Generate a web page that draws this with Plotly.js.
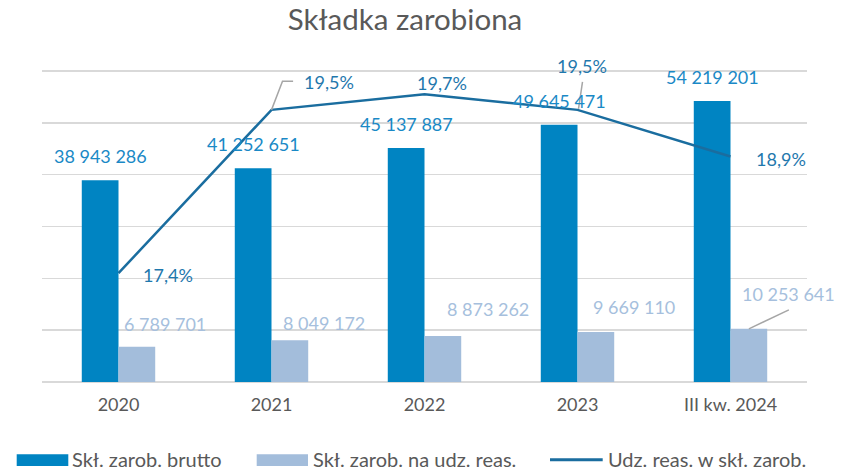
<!DOCTYPE html>
<html>
<head>
<meta charset="utf-8">
<script src="https://cdn.plot.ly/plotly-3.0.1.min.js"></script>
<style>html,body{margin:0;padding:0;background:#fff;}#chart{width:850px;height:472px;}</style>
</head>
<body>
<div id="chart"></div>
<script>
// ---- data ----
const categories = ['2020', '2021', '2022', '2023', 'III kw. 2024'];
const grossEarned = [38943286, 41252651, 45137887, 49645471, 54219201];
const reinsEarned = [6789701, 8049172, 8873262, 9669110, 10253641];
const reinsSharePct = [17.4, 19.5, 19.7, 19.5, 18.9];
const seriesNames = ['Skł. zarob. brutto', 'Skł. zarob. na udz. reas.', 'Udz. reas. w skł. zarob.'];
const chartTitle = 'Składka zarobiona';

// ---- styles ----
const FONT = 'Lato, "Open Sans", sans-serif';
const C_DARK = '#0084C2', C_LIGHT = '#A3BDDB', C_LINE = '#1A6D9F';
const C_DARK_TXT = '#1A89C6', C_LIGHT_TXT = '#A6BFDD', C_LINE_TXT = '#1F78AD';
const C_TEXT = '#595959', C_GRID = '#D9D9D9', C_LEADER = '#A6A6A6';
const BAR_HALF = 18.36; // px offset of bar centre from category centre
// label offsets in pixels [dx, dy(up)]
const darkOff = [0, 24];
const lightOff = [[28.6, 23.3], [34, 17.5], [45.3, 27.4], [37.7, 24.6], [40, 34.5]];
const pctOff = [[49, -2], [57.3, 28], [17.5, 11.4], [4.5, 43.6], [50, -2]];

function fmtNum(v) { return String(v).replace(/\B(?=(\d{3})+(?!\d))/g, ' '); }
function fmtPct(v) { return v.toFixed(1).replace('.', ',') + '%'; }

const traces = [
  { type: 'bar', name: seriesNames[0], x: categories, y: grossEarned, marker: { color: C_DARK }, hoverinfo: 'skip' },
  { type: 'bar', name: seriesNames[1], x: categories, y: reinsEarned, marker: { color: C_LIGHT }, hoverinfo: 'skip' },
  { type: 'scatter', mode: 'lines', name: seriesNames[2], x: categories, y: reinsSharePct, yaxis: 'y2',
    line: { color: C_LINE, width: 2.5 }, hoverinfo: 'skip' }
];

const annotations = [];
const shapes = [];
categories.forEach((c, i) => {
  // i = category index on the category axis
  annotations.push({ x: i, y: grossEarned[i], xref: 'x', yref: 'y', text: fmtNum(grossEarned[i]), showarrow: false,
    xanchor: 'center', yanchor: 'middle', xshift: -BAR_HALF + darkOff[0], yshift: darkOff[1],
    font: { family: FONT, size: 18, color: C_DARK_TXT } });
  annotations.push({ x: i, y: reinsEarned[i], xref: 'x', yref: 'y', text: fmtNum(reinsEarned[i]), showarrow: false,
    xanchor: 'center', yanchor: 'middle', xshift: BAR_HALF + lightOff[i][0], yshift: lightOff[i][1],
    font: { family: FONT, size: 18, color: C_LIGHT_TXT } });
  annotations.push({ x: i, y: reinsSharePct[i], xref: 'x', yref: 'y2', text: fmtPct(reinsSharePct[i]), showarrow: false,
    xanchor: 'center', yanchor: 'middle', xshift: pctOff[i][0], yshift: pctOff[i][1],
    font: { family: FONT, size: 18, color: C_LINE_TXT } });
});

// leader lines (pixel offsets from data anchors)
shapes.push({ type: 'path', xref: 'x', yref: 'y2', xsizemode: 'pixel', ysizemode: 'pixel',
  xanchor: 1, yanchor: reinsSharePct[1], path: 'M0,0 L11,28.6 L21.6,28.6', line: { color: C_LEADER, width: 1.5 } });
shapes.push({ type: 'path', xref: 'x', yref: 'y2', xsizemode: 'pixel', ysizemode: 'pixel',
  xanchor: 3, yanchor: reinsSharePct[3], path: 'M1,1 L5,28', line: { color: C_LEADER, width: 1.5 } });
shapes.push({ type: 'path', xref: 'x', yref: 'y', xsizemode: 'pixel', ysizemode: 'pixel',
  xanchor: 4, yanchor: reinsEarned[4], path: 'M' + BAR_HALF + ',0 L' + (BAR_HALF + 40) + ',19', line: { color: C_LEADER, width: 1.5 } });

// custom legend (paper coords: plot area 42..807 x, 70..381.7 y)
const PL = 42, PW = 765, PB = 381.7, PH = 311.7;
const px = v => (v - PL) / PW, py = v => (PB - v) / PH;
shapes.push({ type: 'rect', xref: 'paper', yref: 'paper', x0: px(16.7), x1: px(68.3), y0: py(465.7), y1: py(454), fillcolor: C_DARK, line: { width: 0 } });
shapes.push({ type: 'rect', xref: 'paper', yref: 'paper', x0: px(256.7), x1: px(308), y0: py(465.7), y1: py(454), fillcolor: C_LIGHT, line: { width: 0 } });
shapes.push({ type: 'line', xref: 'paper', yref: 'paper', x0: px(550), x1: px(602.7), y0: py(459.5), y1: py(459.5), line: { color: C_LINE, width: 3 } });
[[70, seriesNames[0]], [311, seriesNames[1]], [606, seriesNames[2]]].forEach(([x, t]) => {
  annotations.push({ xref: 'paper', yref: 'paper', x: px(x), y: py(459), text: t, showarrow: false,
    xanchor: 'left', yanchor: 'middle', font: { family: FONT, size: 20, color: C_TEXT } });
});

const layout = {
  width: 850, height: 472,
  margin: { l: 42, r: 43, t: 70, b: 90.3 },
  paper_bgcolor: '#fff', plot_bgcolor: '#fff',
  showlegend: false,
  barmode: 'group', bargap: 0.52, bargroupgap: 0,
  title: { text: chartTitle, x: 405 / 850, xref: 'container', xanchor: 'center', y: 1 - 20 / 472, yanchor: 'middle',
    font: { family: FONT, size: 29.5, color: C_TEXT } },
  xaxis: { type: 'category', range: [-0.5, categories.length - 0.5], autorange: false, showgrid: false, showline: false, zeroline: false, ticks: '',
    tickfont: { family: FONT, size: 18, color: C_TEXT }, ticklabelstandoff: 10, fixedrange: true },
  yaxis: { range: [0, 60200000], autorange: false, tickmode: 'linear', tick0: 0, dtick: 10000000, showticklabels: false, showgrid: true, gridcolor: C_GRID, gridwidth: 1.5,
    zeroline: true, zerolinecolor: C_GRID, zerolinewidth: 2, showline: false, ticks: '', fixedrange: true },
  yaxis2: { range: [16, 20.0129], autorange: false, overlaying: 'y', side: 'right', visible: false, showgrid: false, zeroline: false, fixedrange: true },
  annotations: annotations,
  shapes: shapes
};

Plotly.newPlot('chart', traces, layout, { staticPlot: true, displayModeBar: false });
</script>
</body>
</html>
